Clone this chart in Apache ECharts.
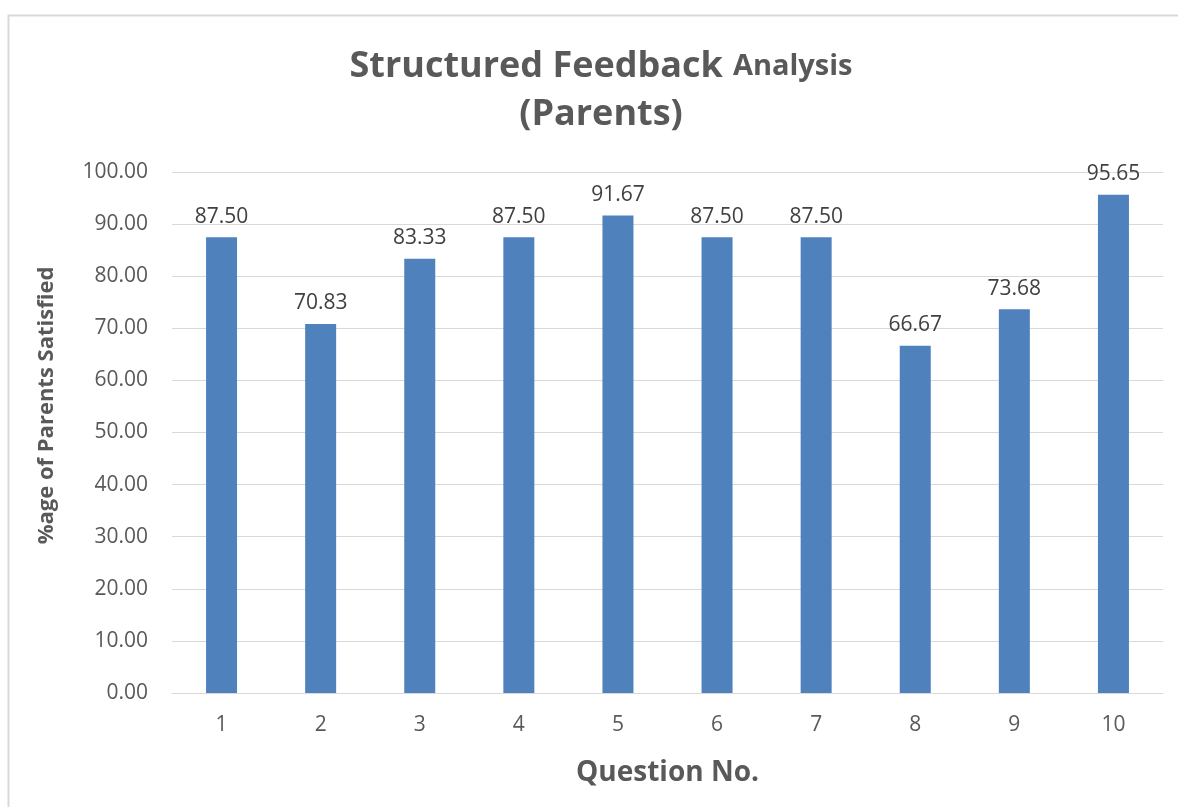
<!DOCTYPE html>
<html lang="en">
<head>
  <meta charset="UTF-8">
  <title>Structured Feedback Analysis (Parents)</title>
  <style>
    html, body { margin: 0; padding: 0; background: #fff; }
    #chart { width: 1178px; height: 807px; }
  </style>
</head>
<body>
<div id="chart"></div>
<script src="https://cdn.jsdelivr.net/npm/echarts@6/dist/echarts.min.js"></script>
<script>
const questions = ['1', '2', '3', '4', '5', '6', '7', '8', '9', '10'];
const satisfied = [87.50, 70.83, 83.33, 87.50, 91.67, 87.50, 87.50, 66.67, 73.68, 95.65];

const font = 'Open Sans';
const myCharts = echarts.init(document.getElementById('chart'));
myCharts.setOption({
  backgroundColor: '#fff',
  textStyle: { fontFamily: font },
  graphic: [{
    type: 'rect',
    shape: { x: 8.5, y: 15.5, width: 1300, height: 900 },
    style: { fill: 'none', stroke: '#d9d9d9', lineWidth: 2 },
    silent: true
  }],
  title: {
    text: '{big|Structured Feedback}{gap| }{small|Analysis}\n{big|(Parents)}',
    left: 596,
    top: 38,
    textAlign: 'center',
    textStyle: {
      rich: {
        big: { fontSize: 36, fontWeight: 'bold', color: '#595959', fontFamily: font, lineHeight: 48 },
        gap: { width: 10, fontSize: 28, lineHeight: 48 },
        small: { fontSize: 29, fontWeight: 'bold', color: '#595959', fontFamily: font, lineHeight: 48 }
      }
    }
  },
  grid: { left: 172, right: 15, top: 172, bottom: 114 },
  xAxis: {
    type: 'category',
    data: questions,
    name: 'Question No.',
    nameLocation: 'middle',
    nameGap: 66,
    nameTextStyle: { fontSize: 28, fontWeight: 'bold', color: '#595959' },
    axisLine: { lineStyle: { color: '#d9d9d9', width: 1 } },
    axisTick: { show: false },
    axisLabel: { fontSize: 21, color: '#595959', margin: 22 }
  },
  yAxis: {
    type: 'value',
    min: 0,
    max: 100,
    interval: 10,
    name: '%age of Parents Satisfied',
    nameLocation: 'middle',
    nameGap: 114,
    nameTextStyle: { fontSize: 22, fontWeight: 'bold', color: '#595959', padding: [0, 0, 0, 54] },
    axisLine: { show: false },
    axisTick: { show: false },
    splitLine: { lineStyle: { color: '#d9d9d9', width: 1 } },
    axisLabel: {
      fontSize: 21,
      color: '#595959',
      margin: 24,
      formatter: v => v.toFixed(2)
    }
  },
  series: [{
    name: '%age of Parents Satisfied',
    type: 'bar',
    data: satisfied,
    barWidth: 31,
    itemStyle: { color: '#4f81bd' },
    label: {
      show: true,
      position: 'top',
      distance: 10,
      fontSize: 21,
      color: '#404040',
      formatter: p => p.value.toFixed(2)
    }
  }]
});
window.addEventListener('resize', () => {
  myCharts.resize();
});
</script>
</body>
</html>
